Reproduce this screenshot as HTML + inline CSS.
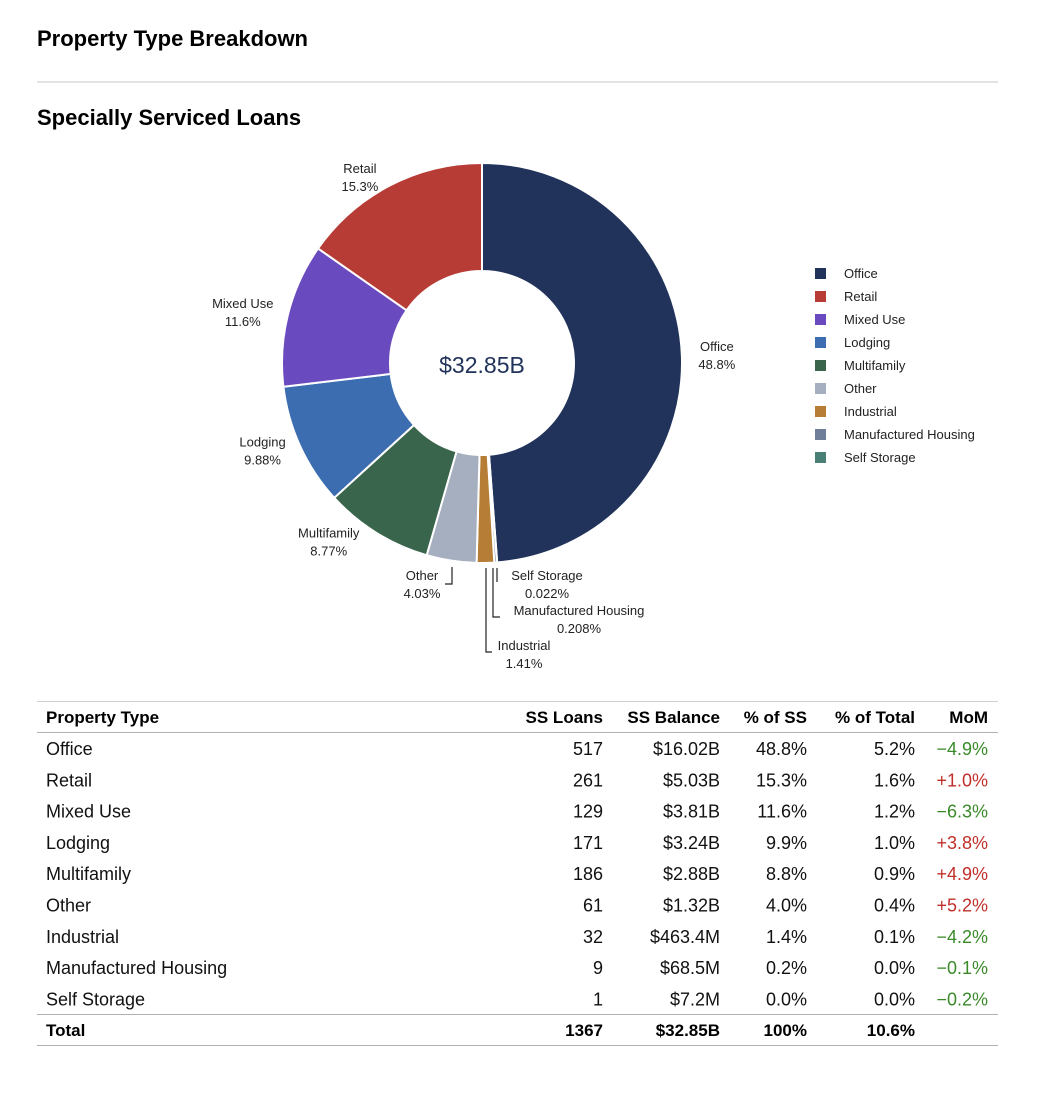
<!DOCTYPE html>
<html><head><meta charset="utf-8"><style>
html,body{margin:0;padding:0;background:#fff;}
svg{display:block;font-family:"Liberation Sans",Arial,sans-serif;}
</style></head><body>
<svg id="root" width="1046" height="1098" viewBox="0 0 1046 1098">
<text x="37" y="46" font-size="22" font-weight="bold" fill="#000">Property Type Breakdown</text>
<line x1="37" y1="82" x2="998" y2="82" stroke="#c8c8c8" stroke-width="1"/>
<text x="37" y="125" font-size="22" font-weight="bold" fill="#000">Specially Serviced Loans</text>
<g id="pie"></g>
<text x="482" y="373" font-size="23" fill="#21335a" text-anchor="middle">$32.85B</text>
<g id="legend"></g>
<g id="table"></g>
</svg>
<script>
const categories = ["Office","Retail","Mixed Use","Lodging","Multifamily","Other","Industrial","Manufactured Housing","Self Storage"];
const pctValues = [48.8,15.3,11.6,9.88,8.77,4.03,1.41,0.208,0.022];
const pctLabels = ["48.8%","15.3%","11.6%","9.88%","8.77%","4.03%","1.41%","0.208%","0.022%"];
const colors = ["#21335a","#b83c36","#6a4bbf","#3c6db0","#39654d","#a5afc0","#b57d35","#6f7f9a","#4a7f75"];
const ssLoans = ["517","261","129","171","186","61","32","9","1"];
const ssBalance = ["$16.02B","$5.03B","$3.81B","$3.24B","$2.88B","$1.32B","$463.4M","$68.5M","$7.2M"];
const pctSS = ["48.8%","15.3%","11.6%","9.9%","8.8%","4.0%","1.4%","0.2%","0.0%"];
const pctTotal = ["5.2%","1.6%","1.2%","1.0%","0.9%","0.4%","0.1%","0.0%","0.0%"];
const mom = ["−4.9%","+1.0%","−6.3%","+3.8%","+4.9%","+5.2%","−4.2%","−0.1%","−0.2%"];
const totals = ["Total","1367","$32.85B","100%","10.6%",""];

const NS="http://www.w3.org/2000/svg";
function mk(tag,attrs,parent,text){const e=document.createElementNS(NS,tag);for(const k in attrs)e.setAttribute(k,attrs[k]);if(text!==undefined)e.textContent=text;parent.appendChild(e);return e;}
const cx=482,cy=363,R=200,r0=92;
const pie=document.getElementById('pie');
const sum=pctValues.reduce((a,b)=>a+b,0);
const order=[0,8,7,6,5,4,3,2,1];
function pt(a,rad){return [cx+rad*Math.sin(a),cy-rad*Math.cos(a)];}
let acc=0;const mids={};
order.forEach(i=>{
  const a0=acc/sum*2*Math.PI; acc+=pctValues[i]; const a1=acc/sum*2*Math.PI;
  mids[i]=(a0+a1)/2;
  const large=(a1-a0)>Math.PI?1:0;
  const p0=pt(a0,R),p1=pt(a1,R),q1=pt(a1,r0),q0=pt(a0,r0);
  const d=`M${p0[0]},${p0[1]}A${R},${R} 0 ${large} 1 ${p1[0]},${p1[1]}L${q1[0]},${q1[1]}A${r0},${r0} 0 ${large} 0 ${q0[0]},${q0[1]}Z`;
  const s=mk('path',{d:d,fill:colors[i],stroke:'#fff','stroke-width':2},pie);
  
  
});
[0,1,2,3,4].forEach(i=>{
  const p=pt(mids[i],210);
  const hw=categories[i].length*3.5+4;
  const x=p[0]+(Math.sin(mids[i])>0?hw:-hw);
  const g=mk('g',{},pie);
  
  
  mk('text',{x:x,y:p[1]-4,'font-size':13,'text-anchor':'middle',fill:'#222'},g,categories[i]);
  mk('text',{x:x,y:p[1]+14,'font-size':13,'text-anchor':'middle',fill:'#222'},g,pctLabels[i]);
});
const leader=[
  {i:5,path:"M452,567 L452,584 L445,584",tx:422,ty:580},
  {i:6,path:"M486,568 L486,652 L492,652",tx:524,ty:650},
  {i:7,path:"M493,568 L493,617 L500,617",tx:579,ty:615},
  {i:8,path:"M497,568 L497,582",tx:547,ty:580}
];
leader.forEach(o=>{
  const g=mk('g',{},pie);
  
  
  mk('path',{d:o.path,fill:'none',stroke:'#222','stroke-width':1.2},g);
  mk('text',{x:o.tx,y:o.ty,'font-size':13,'text-anchor':'middle',fill:'#222'},g,categories[o.i]);
  mk('text',{x:o.tx,y:o.ty+18,'font-size':13,'text-anchor':'middle',fill:'#222'},g,pctLabels[o.i]);
});
const lg=document.getElementById('legend');
categories.forEach((c,k)=>{
  const g=mk('g',{},lg);
  
  
  mk('rect',{x:815,y:268+k*23,width:11,height:11,fill:colors[k]},g);
  mk('text',{x:844,y:278+k*23,'font-size':13,fill:'#222'},g,c);
});
const tb=document.getElementById('table');
const rights=[603,720,807,915,988];
function hline(y,c){const l=mk('line',{x1:37,x2:998,y1:y,y2:y,stroke:c,'stroke-width':1},tb);}
hline(701.5,'#d0d0d0');hline(732.5,'#b0b0b0');hline(1014.5,'#b0b0b0');hline(1045.5,'#b0b0b0');
const head=["Property Type","SS Loans","SS Balance","% of SS","% of Total","MoM"];
const hg=mk('g',{},tb);


head.forEach((h,j)=>{
  if(j===0) mk('text',{x:46,y:723,'font-size':17,'font-weight':'bold',fill:'#000'},hg,h);
  else mk('text',{x:rights[j-1],y:723,'font-size':17,'font-weight':'bold','text-anchor':'end',fill:'#000'},hg,h);
});
categories.forEach((c,k)=>{
  const y=755+k*31.3;
  const g=mk('g',{},tb);
  
  
  mk('text',{x:46,y:y,'font-size':18,fill:'#111'},g,c);
  const vals=[ssLoans[k],ssBalance[k],pctSS[k],pctTotal[k],mom[k]];
  vals.forEach((v,j)=>{
    const fill=j===4?(v.startsWith('+')?'#c0302a':'#3a8a2a'):'#111';
    mk('text',{x:rights[j],y:y,'font-size':18,'text-anchor':'end',fill:fill},g,v);
  });
});
const tg=mk('g',{},tb);


totals.forEach((v,j)=>{
  if(j===0) mk('text',{x:46,y:1036,'font-size':17,'font-weight':'bold',fill:'#000'},tg,v);
  else mk('text',{x:rights[j-1],y:1036,'font-size':17,'font-weight':'bold','text-anchor':'end',fill:'#000'},tg,v);
});
</script>
</body></html>
